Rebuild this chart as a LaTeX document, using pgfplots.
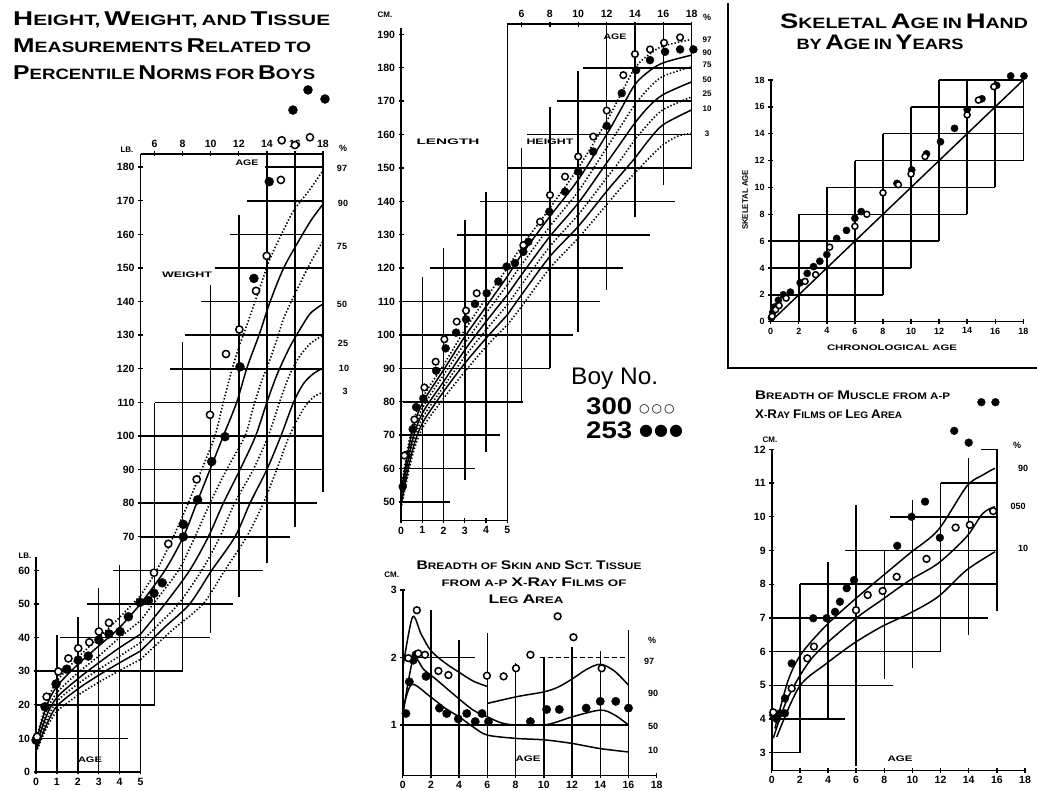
\documentclass[border=0pt]{standalone}
\usepackage{graphicx}
\usepackage{pgfplots}
\pgfplotsset{compat=1.18}
\usepackage{fontspec}
\setmainfont{Liberation Sans}
\newfontfamily\dejavu{DejaVu Sans}
\newsavebox\tbox
\newcommand\fitw[2]{\sbox\tbox{#2}\pgfmathsetmacro\fsx{#1/\the\wd\tbox}\scalebox{\fsx}[1]{\usebox\tbox}}
\newcommand\SC[4]{{\fontsize{#1}{#1}\selectfont #3}{\fontsize{#2}{#2}\selectfont #4}}
\newcommand\Ta[2]{\SC{20}{15}{#1}{#2}}
\newcommand\Tb[2]{\SC{21}{15}{#1}{#2}}
\newcommand\Tc[2]{\SC{12.5}{9.5}{#1}{#2}}
\newcommand\tl{\fontsize{10.5}{10.5}\selectfont\bfseries}
\newcommand\lb{\fontsize{8}{8}\selectfont\bfseries}
\newcommand\pcf{\fontsize{9}{9}\selectfont\bfseries}
\pgfplotsset{
  panel/.style={scale only axis, clip=false, anchor=south west,
    axis line style={line width=1.6pt},
    every tick/.style={black,line width=1.4pt},
    major tick length=5pt, tick align=center,
    tick label style={font=\tl},
    /pgf/number format/assume math mode=true,
    /pgf/number format/1000 sep={}},
  noarr/.style={axis line style={-},
    every outer x axis line/.append style={-}, every outer y axis line/.append style={-},
    every inner x axis line/.append style={-}, every inner y axis line/.append style={-}},
  sol/.style={black, line width=1.5pt, smooth, no markers},
  dot/.style={black, line width=1.6pt, smooth, no markers, dash pattern=on 1.4pt off 2pt},
  fil/.style={only marks, mark=*, mark size=#1, mark options={draw=black, fill=black}},
  opn/.style={only marks, mark=*, mark size=#1, mark options={draw=black, fill=white, line width=1.5pt}},
}
\tikzset{g/.style={line width=1.5pt}}
\begin{document}
\begin{tikzpicture}

% ================= WEIGHT, upper part (ages 5-18) =================
\begin{axis}[panel, at={(140.5pt,19pt)}, width=182.5pt, height=618.24pt,
  xmin=5, xmax=18, ymin=0, ymax=184,
  axis x line=top, axis y line=left,
  xtick={6,8,...,18}, ytick={70,80,...,180}, noarr]
\draw[g] (axis cs:13.9,180) -- (axis cs:18,180);
\draw[g] (axis cs:12.6,170) -- (axis cs:18,170);
\draw[g] (axis cs:11.4,160) -- (axis cs:18,160);
\draw[g] (axis cs:10.3,150) -- (axis cs:18,150);
\draw[g] (axis cs:9.3,140) -- (axis cs:18,140);
\draw[g] (axis cs:8.2,130) -- (axis cs:18,130);
\draw[g] (axis cs:7.1,120) -- (axis cs:18,120);
\draw[g] (axis cs:6.05,110) -- (axis cs:18,110);
\draw[g] (axis cs:5,100) -- (axis cs:18,100);
\draw[g] (axis cs:5,90) -- (axis cs:18,90);
\draw[g] (axis cs:5,80) -- (axis cs:17.57,80);
\draw[g] (axis cs:5,70) -- (axis cs:15.65,70);
\draw[g] (axis cs:3.04,60) -- (axis cs:13.73,60);
\draw[g] (axis cs:1.19,50) -- (axis cs:11.59,50);
\draw[g] (axis cs:-0.73,40) -- (axis cs:9.95,40);
\draw[g] (axis cs:-2.44,30) -- (axis cs:8.03,30);
\draw[g] (axis cs:-2.44,20) -- (axis cs:6.03,20);
\draw[g] (axis cs:-2.44,10) -- (axis cs:4.11,10);
\draw[g] (axis cs:6,20) -- (axis cs:6,109.7);
\draw[g] (axis cs:8,30.4) -- (axis cs:8,128);
\draw[g] (axis cs:10,41.3) -- (axis cs:10,145);
\draw[g] (axis cs:12,52.2) -- (axis cs:12,165.8);
\draw[g] (axis cs:14,62.1) -- (axis cs:14,184);
\draw[g] (axis cs:16,73) -- (axis cs:16,184);
\draw[g] (axis cs:18,83.4) -- (axis cs:18,184);
\addplot[dot] coordinates {(5,52.5) (6.15,60) (7.34,70) (8.4,80) (9.36,90) (10.3,100) (10.9,110) (11.6,121) (12.1,127.5) (12.7,134.5) (13.2,140.5) (13.7,146.5) (14.2,152.5) (15.1,160.5) (15.9,167) (17,173) (18,179)};
\addplot[sol] coordinates {(5,50) (6.74,60) (8.05,70) (9.0,80) (9.95,90) (10.9,100) (11.85,110) (12.6,120.5) (13.5,130.7) (14.2,139.6) (15.2,150) (16.4,159) (17.2,164.5) (18,169)};
\addplot[dot] coordinates {(5,45) (5.9,50) (7.7,60) (8.88,70) (9.95,80) (11.14,90) (12.44,100) (13.0,108) (13.6,116) (14.2,122.5) (14.7,128.5) (15.2,135) (15.9,141.4) (17.1,151.5) (18,158)};
\addplot[sol] coordinates {(5,41) (6.74,50) (8.5,60) (9.83,70) (10.9,80) (12.09,90) (13.2,100) (14.0,110) (14.7,118) (15.4,124.5) (15.9,128.5) (16.4,132) (17.1,136.5) (18,139.3)};
\addplot[dot] coordinates {(5,38.5) (6.3,44) (7.7,50) (9.36,60) (10.66,70) (11.7,80) (13.03,90) (14.1,100) (14.9,110) (15.6,118) (16.3,123.5) (17.1,127.5) (18,130)};
\addplot[sol] coordinates {(5,36) (6.7,43) (8.5,50) (10.07,60) (11.73,70) (12.8,80) (14.0,90) (15.0,100) (15.9,110) (16.6,115.5) (17.3,118.5) (18,120.2)};
\addplot[dot] coordinates {(5,33.5) (7.2,42) (9.45,50) (11.0,60) (12.56,70) (13.75,80) (14.7,90) (15.6,100) (16.6,108) (17.3,111.5) (18,113)};
\addplot[fil=4.5pt] coordinates {(5.56,51) (5.96,53.2) (6.55,56.3) (8.05,70) (8.05,73.7) (9.07,81) (10.07,92.4) (11.02,99.8) (12.09,120.6) (13.08,146.9) (14.17,175.7) (15.86,197) (16.93,203) (18.14,200.3)};
\addplot[opn=3.6pt] coordinates {(5.96,59.3) (6.98,67.9) (9.0,87.1) (9.95,106.3) (11.09,124.4) (12.04,131.7) (13.23,143.2) (13.99,153.6) (15.0,176.2) (15.06,188) (16.0,186.6) (17.07,188.9)};
\end{axis}

% ================= WEIGHT, lower part (ages 0-5) =================
\begin{axis}[panel, at={(36pt,19pt)}, width=104.5pt, height=215.04pt,
  xmin=0, xmax=5, ymin=0, ymax=64, axis lines=left,
  xtick={0,...,5}, ytick={0,10,...,60}, noarr]
\draw[g] (axis cs:1,0) -- (axis cs:1,40.8);
\draw[g] (axis cs:2,0) -- (axis cs:2,46.2);
\draw[g] (axis cs:3,0) -- (axis cs:3,54.7);
\draw[g] (axis cs:4,0) -- (axis cs:4,61.6);
\addplot[dot] coordinates {(0,9.5) (0.5,20.5) (1,27) (2,34) (3,40) (4,46) (5,52.5)};
\addplot[sol] coordinates {(0,9) (0.5,19.5) (1,25.5) (2,32) (3,37.5) (4,43) (5,50)};
\addplot[dot] coordinates {(0,8.2) (0.5,18) (1,23.6) (2,29.5) (3,34.5) (4,40) (5,45)};
\addplot[sol] coordinates {(0,7.5) (0.5,16.7) (1,22.2) (2,27.7) (3,32.5) (4,37) (5,41)};
\addplot[dot] coordinates {(0,6.9) (0.5,15.2) (1,21) (2,26.2) (3,30.5) (4,34.5) (5,38.5)};
\addplot[sol] coordinates {(0,6.3) (0.5,14) (1,19.6) (2,24.7) (3,28.8) (4,32.5) (5,36)};
\addplot[dot] coordinates {(0,5.8) (0.5,13) (1,18) (2,22.8) (3,26.7) (4,30.2) (5,33.5)};
\addplot[fil=4.5pt] coordinates {(0,9.5) (0.43,19.4) (0.96,26.2) (1.47,30.6) (2.02,33.3) (2.5,34.5) (3.01,39.3) (3.49,41.1) (4.02,41.8) (4.42,46.2) (4.98,50.5)};
\addplot[opn=3.6pt] coordinates {(0.05,10.5) (0.51,22.4) (1.07,29.9) (1.55,33.8) (2.02,36.8) (2.55,38.6) (3.01,41.8) (3.49,44.4)};
\end{axis}

% ================= LENGTH / HEIGHT, upper part (ages 5-18) =================
\begin{axis}[panel, at={(507.3pt,270.3pt)}, width=184.4pt, height=496.66pt,
  xmin=5, xmax=18, ymin=44.4, ymax=193.1,
  axis x line=top, axis y line=none, xtick={6,8,...,18}, noarr]
\draw[g] (axis cs:10.34,180) -- (axis cs:18,180);
\draw[g] (axis cs:8.5,170) -- (axis cs:18,170);
\draw[g] (axis cs:6.39,160) -- (axis cs:18,160);
\draw[g] (axis cs:5,150) -- (axis cs:18,150);
\draw[g] (axis cs:3.07,140) -- (axis cs:16.83,140);
\draw[g] (axis cs:1.45,130) -- (axis cs:15.07,130);
\draw[g] (axis cs:-0.45,120) -- (axis cs:13.16,120);
\draw[g] (axis cs:-2.36,110) -- (axis cs:11.54,110);
\draw[g] (axis cs:-2.36,100) -- (axis cs:9.63,100);
\draw[g] (axis cs:-2.36,90) -- (axis cs:8.01,90);
\draw[g] (axis cs:-2.36,80) -- (axis cs:6.11,80);
\draw[g] (axis cs:-2.36,70) -- (axis cs:4.49,70);
\draw[g] (axis cs:-2.36,60) -- (axis cs:2.72,60);
\draw[g] (axis cs:-2.36,50) -- (axis cs:0.96,50);
\draw[g] (axis cs:5,44.4) -- (axis cs:5,193.1);
\draw[g] (axis cs:6,79.5) -- (axis cs:6,156);
\draw[g] (axis cs:8,90) -- (axis cs:8,168.3);
\draw[g] (axis cs:10,101) -- (axis cs:10,179);
\draw[g] (axis cs:12,113.5) -- (axis cs:12,193.1);
\draw[g] (axis cs:14,135.4) -- (axis cs:14,193.1);
\draw[g] (axis cs:16,144.9) -- (axis cs:16,193.1);
\draw[g] (axis cs:18,150.4) -- (axis cs:18,193.1);
\addplot[dot] coordinates {(5,120) (6,126.5) (8,138) (10,150) (12,164) (13,172) (14,180) (15,184) (16,186.5) (18,188.5)};
\addplot[sol] coordinates {(5,117.5) (6,124) (8,135.5) (10,146.5) (12,160) (13,167.5) (14,175) (15,179) (16,181.5) (18,183.8)};
\addplot[dot] coordinates {(5,115) (6,121) (8,132.5) (10,143) (12,156) (13,162.5) (14,169) (15,174) (16,177.5) (18,180.3)};
\addplot[sol] coordinates {(5,112) (6,118) (8,129.5) (10,139.5) (12,151.5) (13,157.5) (14,163.5) (15,168.5) (16,172) (18,175.8)};
\addplot[dot] coordinates {(5,109) (6,115) (8,126.5) (10,136) (12,147) (13,152.5) (14,158.5) (15,163.5) (16,167.5) (18,171.3)};
\addplot[sol] coordinates {(5,106) (6,112) (8,123.5) (10,132.5) (12,143) (13,148) (14,153) (15,158.5) (16,163) (18,167.4)};
\addplot[dot] coordinates {(5,103) (6,108.5) (8,120) (10,129) (12,139) (13,144) (14,148.5) (15,153) (16,157) (17,159.5) (18,160.4)};
\addplot[fil=4pt] coordinates {(18.12,185.5) (17.18,185.5) (16.12,184.8) (15.06,182.3) (14.08,179.3) (13.07,172.4) (12.01,162.6) (11.06,154.9) (10.0,148.9) (9.07,142.9) (7.96,136.9) (6.48,127.9) (6.13,124.9) (5.54,121.5)};
\addplot[opn=3.3pt] coordinates {(17.18,189.1) (16.05,187.5) (15.06,185.5) (14.0,184.1) (13.18,177.8) (12.01,167.2) (11.06,159.4) (10.0,153.4) (9.07,147.4) (8.01,141.9) (7.31,133.9) (6.13,126.9)};
\end{axis}

% ================= LENGTH, lower part (ages 0-5) =================
\begin{axis}[panel, at={(401pt,270.3pt)}, width=106.3pt, height=492.98pt,
  xmin=0, xmax=5, ymin=44.4, ymax=192, axis lines=left,
  xtick={0,...,5}, ytick={50,60,...,190}, noarr]
\draw[g] (axis cs:1,44.4) -- (axis cs:1,117.4);
\draw[g] (axis cs:2,44.4) -- (axis cs:2,126);
\draw[g] (axis cs:3,56.6) -- (axis cs:3,134.4);
\draw[g] (axis cs:4,65) -- (axis cs:4,142.9);
\addplot[dot] coordinates {(0,54) (0.5,72) (1,81) (2,91) (3,101.5) (4,111) (5,120)};
\addplot[sol] coordinates {(0,53) (0.5,70.5) (1,79.5) (2,89.5) (3,99.5) (4,108.5) (5,117.5)};
\addplot[dot] coordinates {(0,52) (0.5,69) (1,78) (2,88) (3,97.5) (4,106.5) (5,115)};
\addplot[sol] coordinates {(0,51) (0.5,67.5) (1,76.5) (2,86) (3,95.5) (4,104) (5,112)};
\addplot[dot] coordinates {(0,50) (0.5,66) (1,75) (2,84.5) (3,93.5) (4,101.5) (5,109)};
\addplot[sol] coordinates {(0,49) (0.5,64.5) (1,73.5) (2,83) (3,91.5) (4,99) (5,106)};
\addplot[dot] coordinates {(0,48) (0.5,63) (1,72) (2,81) (3,89) (4,96.5) (5,103)};
\addplot[fil=4pt] coordinates {(4.97,120.5) (4.58,116) (4.03,112.5) (3.48,109.3) (3.06,104.7) (2.59,100.7) (2.1,96) (1.65,89.3) (1.05,81) (0.71,78.4) (0.55,71.8) (0.24,64.1) (0.08,54.6)};
\addplot[opn=3.3pt] coordinates {(3.56,112.5) (3.06,107.3) (2.62,104) (2.04,98.7) (1.63,92) (1.1,84.3) (0.63,74.7) (0.16,63.9)};
\end{axis}

% ================= SKELETAL AGE =================
\begin{axis}[panel, at={(770.7pt,469.3pt)}, width=252.6pt, height=241.7pt,
  xmin=0, xmax=18, ymin=0, ymax=18, axis lines=left,
  xtick={0,2,...,18}, ytick={0,2,...,18},
  tick label style={font=\fontsize{9}{9}\selectfont\bfseries}, noarr]
\draw[g] (axis cs:2,0) -- (axis cs:2,8);
\draw[g] (axis cs:4,0) -- (axis cs:4,10);
\draw[g] (axis cs:6,0) -- (axis cs:6,12);
\draw[g] (axis cs:8,2) -- (axis cs:8,14);
\draw[g] (axis cs:10,4) -- (axis cs:10,16);
\draw[g] (axis cs:12,6) -- (axis cs:12,18);
\draw[g] (axis cs:14,8) -- (axis cs:14,18);
\draw[g] (axis cs:16,10) -- (axis cs:16,18);
\draw[g] (axis cs:18,12) -- (axis cs:18,18);
\draw[g] (axis cs:0,2) -- (axis cs:8,2);
\draw[g] (axis cs:0,4) -- (axis cs:10,4);
\draw[g] (axis cs:0,6) -- (axis cs:12,6);
\draw[g] (axis cs:2,8) -- (axis cs:14,8);
\draw[g] (axis cs:4,10) -- (axis cs:16,10);
\draw[g] (axis cs:6,12) -- (axis cs:18,12);
\draw[g] (axis cs:8,14) -- (axis cs:18,14);
\draw[g] (axis cs:10,16) -- (axis cs:18,16);
\draw[g] (axis cs:12,18) -- (axis cs:18,18);
\addplot[black, line width=1.5pt] coordinates {(0,0) (18,18)};
\addplot[fil=3.6pt] coordinates {(0.05,0.3) (0.15,0.7) (0.3,1.1) (0.55,1.6) (0.9,2.0) (1.4,2.2) (2.1,2.9) (2.6,3.6) (3.05,4.1) (3.5,4.5) (4.0,5.0) (4.7,6.2) (5.4,6.8) (6.0,7.7) (6.45,8.2) (9.0,10.3) (10.05,11.3) (11.1,12.5) (12.1,13.4) (13.1,14.4) (14.0,15.8) (15.05,16.6) (16.1,17.6) (17.1,18.3) (18.05,18.3)};
\addplot[opn=3pt] coordinates {(0.1,0.4) (0.35,0.9) (0.6,1.2) (1.1,1.75) (2.45,3.0) (3.2,3.5) (4.2,5.55) (6.0,7.1) (6.85,8.0) (8.0,9.6) (9.1,10.2) (10.0,11.0) (11.0,12.3) (14.0,15.4) (14.8,16.5) (15.9,17.5)};
\end{axis}

% ================= SKIN =================
\begin{axis}[panel, at={(402.7pt,15.4pt)}, width=254pt, height=185.6pt,
  xmin=0, xmax=18, ymin=0.25, ymax=3, axis lines=left,
  xtick={0,2,...,18}, ytick={1,2,3}, noarr]
\draw[g] (axis cs:2,0.25) -- (axis cs:2,2.7);
\draw[g] (axis cs:4,0.25) -- (axis cs:4,2.26);
\draw[g] (axis cs:6,0.25) -- (axis cs:6,2.36);
\draw[g] (axis cs:8,0.25) -- (axis cs:8,1.92);
\draw[g] (axis cs:10,0.25) -- (axis cs:10,2.0);
\draw[g] (axis cs:12,0.25) -- (axis cs:12,2.16);
\draw[g] (axis cs:14,0.25) -- (axis cs:14,2.1);
\draw[g] (axis cs:16,0.25) -- (axis cs:16,2.4);
\draw[g] (axis cs:0,1) -- (axis cs:16,1);
\draw[g] (axis cs:0,2) -- (axis cs:5.1,2);
\draw[g, dash pattern=on 5pt off 3pt] (axis cs:9.7,2) -- (axis cs:16,2);
\addplot[sol] coordinates {(0.05,1.9) (0.7,2.6) (1.3,2.35) (2,2.1) (3,1.92) (4,1.78) (5,1.65) (6,1.57)};
\addplot[sol] coordinates {(6.02,1.32) (8.1,1.42) (10,1.49) (11,1.56) (12,1.68) (13,1.82) (14,1.9) (15,1.8) (16,1.59)};
\addplot[sol] coordinates {(0.05,1.2) (0.75,1.98) (1.5,1.82) (2.4,1.67) (3.8,1.42) (5,1.22) (6,1.12) (7,1.03) (8,1.0) (10,1.0) (11,1.05) (12,1.12) (14,1.22) (15,1.15) (16,1.0)};
\addplot[sol] coordinates {(0.05,1.25) (0.64,1.6) (1.95,1.42) (3,1.25) (4,1.12) (5,0.97) (6,0.85) (8.1,0.8) (10,0.78) (11.9,0.73) (14,0.65) (16,0.6)};
\addplot[fil=4.2pt] coordinates {(0.23,1.17) (0.47,1.64) (0.75,1.96) (0.94,2.04) (1.65,1.72) (2.6,1.25) (3.12,1.17) (3.94,1.09) (4.54,1.17) (5.14,1.05) (5.62,1.17) (6.08,1.05) (9.05,1.05) (10.2,1.23) (11.1,1.23) (13.0,1.25) (14.0,1.35) (15.1,1.35) (16.0,1.25)};
\addplot[opn=3.4pt] coordinates {(1.0,2.7) (0.4,1.99) (1.1,2.06) (1.58,2.04) (2.53,1.8) (3.24,1.74) (5.97,1.73) (7.15,1.72) (8.03,1.84) (9.05,2.04) (10.98,2.61) (12.1,2.3) (14.1,1.84)};
\end{axis}

% ================= MUSCLE =================
\begin{axis}[panel, at={(771.7pt,20.4pt)}, width=253.3pt, height=321.2pt,
  xmin=0, xmax=18, ymin=2.47, ymax=12, axis lines=left,
  xtick={0,2,...,18}, ytick={3,4,...,12}, noarr]
\draw[g] (axis cs:0,3) -- (axis cs:2,3);
\draw[g] (axis cs:0,4) -- (axis cs:5.2,4);
\draw[g] (axis cs:0,5) -- (axis cs:8.6,5);
\draw[g] (axis cs:0,6) -- (axis cs:12,6);
\draw[g] (axis cs:0,7) -- (axis cs:15.4,7);
\draw[g] (axis cs:2,8) -- (axis cs:16,8);
\draw[g] (axis cs:5.2,9) -- (axis cs:16,9);
\draw[g] (axis cs:8.4,10) -- (axis cs:16,10);
\draw[g] (axis cs:12,11) -- (axis cs:16,11);
\draw[g] (axis cs:2,3) -- (axis cs:2,8);
\draw[g] (axis cs:4,4) -- (axis cs:4,8.65);
\draw[g] (axis cs:6,2.6) -- (axis cs:6,10.35);
\draw[g] (axis cs:8,5.2) -- (axis cs:8,9);
\draw[g] (axis cs:10,5.5) -- (axis cs:10,10.5);
\draw[g] (axis cs:12,6) -- (axis cs:12,11);
\draw[g] (axis cs:14,6.5) -- (axis cs:14,11.75);
\draw[g] (axis cs:16,7.2) -- (axis cs:16,12);
\draw[g] (axis cs:14.9,12) -- (axis cs:16,12);
\addplot[sol] coordinates {(0.23,3.72) (1.18,5.16) (2.13,5.95) (3.9,6.79) (5.85,7.53) (7.81,8.22) (9.82,8.92) (11.83,9.61) (13.85,10.9) (15.0,11.24) (15.86,11.44)};
\addplot[sol] coordinates {(0.11,3.43) (1.18,4.66) (2.95,5.85) (5.85,6.94) (7.81,7.53) (9.82,8.12) (11.83,8.62) (13.85,9.41) (15.0,10.1) (15.86,10.3)};
\addplot[sol] coordinates {(0.36,3.47) (1.96,4.96) (3.9,5.65) (5.85,6.25) (7.81,6.74) (9.82,7.14) (11.83,7.63) (13.85,8.42) (15.86,8.96)};
\addplot[fil=3.9pt] coordinates {(0.11,4.12) (0.36,4.0) (0.59,4.17) (0.94,4.17) (0.94,4.61) (1.42,5.65) (2.95,6.99) (3.9,6.99) (4.5,7.18) (4.85,7.48) (5.33,7.88) (5.85,8.12) (8.92,9.14) (9.94,10.0) (10.9,10.45) (11.95,9.38) (12.97,12.55) (14.0,12.2) (14.9,13.4) (15.9,13.4)};
\addplot[opn=3.4pt] coordinates {(0.11,4.2) (1.42,4.91) (2.53,5.8) (3.0,6.15) (5.99,7.23) (6.82,7.68) (7.88,7.8) (8.88,8.22) (11.0,8.75) (13.07,9.68) (14.08,9.76) (15.74,10.17)};
\end{axis}

\begin{scope}[x=1pt,y=1pt]
\draw[line width=2pt] (728,788) -- (728,423) -- (1037,423);
\begin{scope}[every node/.style={inner sep=0pt}]
\node[anchor=base west, font=\bfseries] at (13,765) {\fitw{317}{\Ta{H}{EIGHT,} \Ta{W}{EIGHT,} \Ta{}{AND} \Ta{T}{ISSUE}}};
\node[anchor=base west, font=\bfseries] at (13,738.3) {\fitw{298}{\Ta{M}{EASUREMENTS} \Ta{R}{ELATED} \Ta{}{TO}}};
\node[anchor=base west, font=\bfseries] at (13,711) {\fitw{302}{\Ta{P}{ERCENTILE} \Ta{N}{ORMS} \Ta{}{FOR} \Ta{B}{OYS}}};
\node[anchor=base, font=\bfseries] at (904,762.7) {\fitw{248}{\Tb{S}{KELETAL} \Tb{A}{GE} \Tb{}{IN} \Tb{H}{AND}}};
\node[anchor=base, font=\bfseries] at (880,741) {\fitw{167}{\Tb{}{BY} \Tb{A}{GE} \Tb{}{IN} \Tb{Y}{EARS}}};
\node[rotate=90, font=\lb] at (745,591) {\fitw{60}{SKELETAL AGE}};
\node[font=\lb] at (892,443) {\fitw{130}{CHRONOLOGICAL AGE}};
\node[anchor=base, font=\bfseries] at (529,221.7) {\fitw{225}{\Tc{B}{READTH} \Tc{}{OF} \Tc{S}{KIN} \Tc{}{AND} \Tc{S}{CT.} \Tc{T}{ISSUE}}};
\node[anchor=base, font=\bfseries] at (534,204.3) {\fitw{185}{\Tc{}{FROM A-P} \Tc{X}{-}\Tc{R}{AY} \Tc{F}{ILMS} \Tc{}{OF}}};
\node[anchor=base, font=\bfseries] at (526,187.7) {\fitw{75}{\Tc{L}{EG} \Tc{A}{REA}}};
\node[anchor=base west, font=\bfseries] at (755,391.7) {\fitw{195}{\Tc{B}{READTH} \Tc{}{OF} \Tc{M}{USCLE} \Tc{}{FROM A-P}}};
\node[anchor=base west, font=\bfseries] at (755,372.7) {\fitw{147}{\Tc{X}{-}\Tc{R}{AY} \Tc{F}{ILMS} \Tc{}{OF} \Tc{L}{EG} \Tc{A}{REA}}};
\node[font=\lb] at (25,235) {LB.};
\node[font=\lb] at (127,641) {LB.};
\node[font=\lb] at (90,31) {\fitw{24}{AGE}};
\node[font=\lb] at (247,628) {\fitw{23}{AGE}};
\node[font=\lb] at (187,516) {\fitw{50}{WEIGHT}};
\node[font=\pcf] at (343,643) {\%};
\node[font=\pcf] at (342,622.7) {97};
\node[font=\pcf] at (343,587.7) {90};
\node[font=\pcf] at (342,544.3) {75};
\node[font=\pcf] at (342,487) {50};
\node[font=\pcf] at (343,447.7) {25};
\node[font=\pcf] at (344,422.7) {10};
\node[font=\pcf] at (345,399.3) {3};
\node[font=\lb] at (385,776) {CM.};
\node[font=\lb] at (448,649.3) {\fitw{63}{LENGTH}};
\node[font=\lb] at (550,649.3) {\fitw{47}{HEIGHT}};
\node[font=\lb] at (615,754.3) {\fitw{23}{AGE}};
\node[font=\pcf] at (707,774) {\%};
\node[font=\lb] at (707,751.7) {97};
\node[font=\lb] at (707,738.7) {90};
\node[font=\lb] at (707,726) {75};
\node[font=\lb] at (707,711) {50};
\node[font=\lb] at (707,697.7) {25};
\node[font=\lb] at (707,682.7) {10};
\node[font=\lb] at (707,657.7) {3};
\node[font=\lb] at (391.7,216) {CM.};
\node[font=\lb] at (528,32.7) {\fitw{25}{AGE}};
\node[font=\pcf] at (652,151) {\%};
\node[font=\pcf] at (649,129.3) {97};
\node[font=\pcf] at (653,97.7) {90};
\node[font=\pcf] at (653,65) {50};
\node[font=\pcf] at (653,41) {10};
\node[font=\lb] at (770,351) {CM.};
\node[font=\pcf] at (1017,346) {\%};
\node[font=\pcf] at (1023,322.7) {90};
\node[font=\pcf] at (1018,284.3) {050};
\node[font=\pcf] at (1023,242.7) {10};
\node[font=\lb] at (900,32.7) {\fitw{25}{AGE}};
\node[anchor=base west, font=\fontsize{24}{24}\selectfont] at (571,406) {\fitw{87}{Boy No.}};
\node[anchor=base west, font=\fontsize{24}{24}\selectfont\bfseries] at (586,376) {\fitw{46}{300}};
\node[anchor=base west, font=\fontsize{24}{24}\selectfont\bfseries] at (586,352.7) {\fitw{46}{253}};
\node[anchor=west] at (639,382) {\dejavu\fontsize{12}{12}\selectfont ○\hspace{2pt}○\hspace{2pt}○};
\node[anchor=west] at (639,359.5) {\dejavu\fontsize{16}{16}\selectfont ●\hspace{1pt}●\hspace{1pt}●};
\end{scope}
\pgfresetboundingbox
\useasboundingbox (0,0) rectangle (1037,791);
\end{scope}
\end{tikzpicture}
\end{document}
